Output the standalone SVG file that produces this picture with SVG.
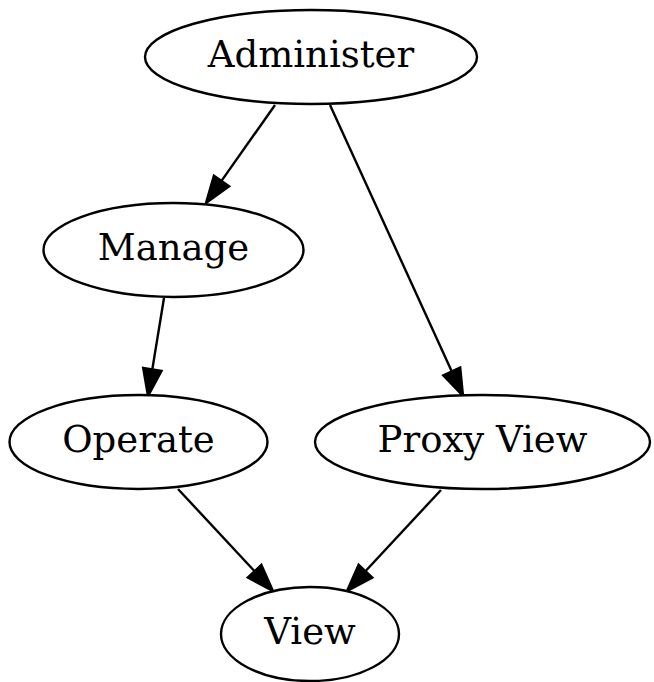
<svg xmlns="http://www.w3.org/2000/svg" width="654" height="682" viewBox="0 0 654 682">
<style>
.node ellipse{fill:#fff;stroke:#000;stroke-width:2.4}
.node text{font-family:"DejaVu Serif",serif;font-size:37px;text-anchor:middle;fill:#000}
.edge line{stroke:#000;stroke-width:2.4}
.edge polygon{fill:#000;stroke:#000;stroke-width:2.4}
</style>
<rect width="654" height="682" fill="#fff"/>
<g id="connectors">
<g class="edge"><line x1="275" y1="105" x2="221.5" y2="180.9"/><polygon points="229.1,186.3 206,203 213.9,175.6"/></g>
<g class="edge"><line x1="330" y1="105" x2="451.8" y2="371.4"/><polygon points="460.2,367.6 463,396 443.3,375.3"/></g>
<g class="edge"><line x1="164" y1="298" x2="152.3" y2="369.4"/><polygon points="161.5,370.9 148,396 143.2,367.9"/></g>
<g class="edge"><line x1="178" y1="489" x2="254.6" y2="571.2"/><polygon points="261.4,564.9 273,591 247.8,577.6"/></g>
<g class="edge"><line x1="441" y1="490" x2="365.4" y2="571.2"/><polygon points="372.2,577.6 347,591 358.6,564.9"/></g>
</g>
<g id="Administer" class="node"><ellipse cx="311" cy="57" rx="166" ry="47"/><text x="311" y="67">Administer</text></g>
<g id="Manage" class="node"><ellipse cx="173.5" cy="250" rx="130" ry="47"/><text x="173.5" y="260">Manage</text></g>
<g id="Operate" class="node"><ellipse cx="138.5" cy="442" rx="129" ry="47"/><text x="138.5" y="452">Operate</text></g>
<g id="ProxyView" class="node"><ellipse cx="482.5" cy="442" rx="167.5" ry="47"/><text x="482.5" y="452">Proxy View</text></g>
<g id="View" class="node"><ellipse cx="310" cy="634" rx="89" ry="47"/><text x="310" y="644">View</text></g>
</svg>
